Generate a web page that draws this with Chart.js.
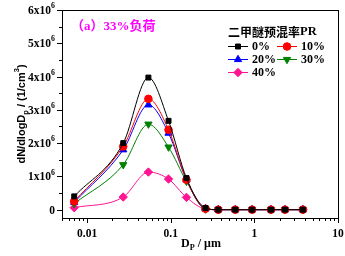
<!DOCTYPE html>
<html>
<head>
<meta charset="utf-8">
<script src="https://cdn.jsdelivr.net/npm/chart.js@4.4.1/dist/chart.umd.min.js"></script>
<style>
  html, body { margin: 0; padding: 0; background: #fff; }
</style>
</head>
<body>
<canvas id="chart" width="345" height="256"></canvas>
<script>
// particle diameter (um)
const sizes = [0.007, 0.027, 0.054, 0.094, 0.154, 0.26, 0.37, 0.59, 0.94, 1.58, 2.32, 3.8];

// dN/dlogDp (1/cm3) for each premix ratio
const pr0  = [0.40e6, 2.00e6, 3.97e6, 2.67e6, 0.95e6, 0.05e6, 0, 0, 0, 0, 0, 0];
const pr10 = [0.25e6, 1.90e6, 3.33e6, 2.40e6, 0.90e6, 0.03e6, 0, 0, 0, 0, 0, 0];
const pr20 = [0.22e6, 1.80e6, 3.15e6, 2.30e6, 0.90e6, 0.03e6, 0, 0, 0, 0, 0, 0];
const pr30 = [0.18e6, 1.35e6, 2.57e6, 1.88e6, 0.85e6, 0.02e6, 0, 0, 0, 0, 0, 0];
const pr40 = [0.06e6, 0.38e6, 1.13e6, 0.92e6, 0.37e6, 0.02e6, 0, 0, 0, 0, 0, 0];

const seriesNames = ['0%', '10%', '20%', '30%', '40%'];
const seriesData = [pr0, pr10, pr20, pr30, pr40];

const xTicks = [0.01, 0.1, 1, 10];
const yTicks = [0, 1e6, 2e6, 3e6, 4e6, 5e6, 6e6];

const colors = ['#000000', '#ff0000', '#0000ff', '#008000', '#ff1493'];
const shapes = ['rect', 'circle', 'triangle', 'triangle', 'rectRot'];
const rotations = [0, 0, 0, 180, 0];
const radii = [3.5, 3.8, 4.2, 4.2, 4.2];

const SERIF = '"Liberation Serif", "Times New Roman", serif';
const SANS = '"Liberation Sans", Arial, sans-serif';

const datasets = seriesData.map((vals, i) => ({
    label: seriesNames[i],
    data: sizes.map((x, j) => ({ x: x, y: vals[j] })),
    borderColor: colors[i],
    backgroundColor: colors[i],
    borderWidth: 1,
    pointStyle: shapes[i],
    pointRotation: rotations[i],
    pointRadius: radii[i],
    pointBorderWidth: 1,
    cubicInterpolationMode: 'monotone',
    order: i
}));

// draw text made of parts with sub/superscripts
function drawRich(ctx, parts, x, y, size, family, align) {
    const small = size * 0.68;
    const widths = parts.map(p => {
        ctx.font = 'bold ' + (p.sub || p.sup ? small : size) + 'px ' + family;
        return ctx.measureText(p.t).width;
    });
    const total = widths.reduce((a, b) => a + b, 0);
    let cx = x;
    if (align === 'center') cx = x - total / 2;
    if (align === 'right') cx = x - total;
    ctx.textAlign = 'left';
    parts.forEach((p, i) => {
        ctx.font = 'bold ' + (p.sub || p.sup ? small : size) + 'px ' + family;
        let dy = 0;
        if (p.sub) dy = size * 0.32;
        if (p.sup) dy = -size * 0.42;
        ctx.fillText(p.t, cx, y + dy);
        cx += widths[i];
    });
}

const decorPlugin = {
    id: 'decor',
    afterDraw(chart) {
        const ctx = chart.ctx;
        const area = chart.chartArea;
        const xs = chart.scales.x;
        const ys = chart.scales.y;
        ctx.save();
        ctx.strokeStyle = '#000';
        ctx.lineWidth = 1;

        // frame
        ctx.strokeRect(area.left + 0.5, area.top + 0.5, area.right - area.left, area.bottom - area.top);

        // x ticks (outside, bottom)
        ctx.beginPath();
        for (let e = -3; e <= 1; e++) {
            for (let m = 1; m <= 9; m++) {
                const v = m * Math.pow(10, e);
                if (v < xs.min || v > xs.max) continue;
                const px = Math.round(xs.getPixelForValue(v)) + 0.5;
                const len = m === 1 ? 5 : 3;
                ctx.moveTo(px, area.bottom);
                ctx.lineTo(px, area.bottom + len);
            }
        }
        // y ticks (outside, left)
        for (let v = 0; v <= 6e6; v += 0.5e6) {
            const py = Math.round(ys.getPixelForValue(v)) + 0.5;
            const len = v % 1e6 === 0 ? 5 : 3;
            ctx.moveTo(area.left, py);
            ctx.lineTo(area.left - len, py);
        }
        ctx.stroke();

        ctx.fillStyle = '#000';
        ctx.textBaseline = 'middle';

        // y tick labels
        ys.ticks.forEach(t => {
            const py = ys.getPixelForValue(t.value) + 1;
            if (t.value === 0) {
                drawRich(ctx, [{ t: '0' }], area.left - 7, py, 11.5, SERIF, 'right');
            } else {
                drawRich(ctx, [{ t: (t.value / 1e6) + 'x10' }, { t: '6', sup: true }], area.left - 7, py, 11.5, SERIF, 'right');
            }
        });

        // y title
        ctx.save();
        ctx.translate(22, (area.top + area.bottom) / 2);
        ctx.rotate(-Math.PI / 2);
        drawRich(ctx, [{ t: 'dN/dlogD' }, { t: 'p', sub: true }, { t: ' / (1/cm' }, { t: '3', sup: true }, { t: ')' }], 0, 0, 11, SANS, 'center');
        ctx.restore();

        // x title
        drawRich(ctx, [{ t: 'D' }, { t: 'P', sub: true }, { t: ' / μm' }], 201, 244, 12, SERIF, 'center');

        // annotation
        ctx.fillStyle = '#ff00ff';
        ctx.font = 'bold 13px ' + SERIF + ', "Noto Sans CJK SC"';
        ctx.textAlign = 'left';
        ctx.fillText('（a）33%负荷', 71, 27);

        // legend
        ctx.fillStyle = '#000';
        ctx.font = 'bold 12px "Noto Sans CJK SC", ' + SERIF;
        ctx.fillText('二甲醚预混率', 228, 32);
        const w = ctx.measureText('二甲醚预混率').width;
        ctx.font = 'bold 12.5px ' + SERIF;
        ctx.fillText('PR', 228 + w, 32);

        const pos = [[228, 46], [277, 46], [228, 59], [277, 59], [228, 72]];
        chart.data.datasets.forEach((ds, i) => {
            const [lx, ly] = pos[i];
            ctx.strokeStyle = ds.borderColor;
            ctx.beginPath();
            ctx.moveTo(lx, ly + 0.5);
            ctx.lineTo(lx + 20, ly + 0.5);
            ctx.stroke();
            ctx.fillStyle = ds.backgroundColor;
            ctx.strokeStyle = ds.borderColor;
            Chart.helpers.drawPoint(ctx, {
                pointStyle: ds.pointStyle,
                rotation: ds.pointRotation,
                radius: ds.pointRadius,
                borderWidth: 1
            }, lx + 10, ly + 0.5);
            ctx.fillStyle = '#000';
            ctx.font = 'bold 12px ' + SERIF;
            ctx.textAlign = 'left';
            ctx.fillText(ds.label, lx + 24, ly + 1);
        });
        ctx.restore();
    }
};

new Chart(document.getElementById('chart'), {
    type: 'line',
    data: { datasets: datasets },
    options: {
        responsive: false,
        animation: false,
        layout: { padding: { top: 10, right: 7, left: 0, bottom: 0 } },
        plugins: {
            legend: { display: false },
            tooltip: { enabled: false }
        },
        scales: {
            x: {
                type: 'logarithmic',
                min: 0.005,
                max: 10,
                afterBuildTicks: scale => { scale.ticks = xTicks.map(v => ({ value: v })); },
                afterFit: scale => {
                    scale.height = 38;
                    scale.paddingLeft = 0;
                    scale.paddingRight = 0;
                },
                grid: { display: false, drawTicks: false },
                border: { display: true, color: '#000', width: 1 },
                ticks: {
                    color: '#000',
                    padding: 9,
                    maxRotation: 0,
                    font: { family: SERIF, size: 11.5, weight: 'bold' },
                    callback: v => String(v)
                }
            },
            y: {
                type: 'linear',
                min: -0.25e6,
                max: 6e6,
                afterBuildTicks: scale => { scale.ticks = yTicks.map(v => ({ value: v })); },
                afterFit: scale => { scale.width = 62; },
                grid: { display: false, drawTicks: false },
                border: { display: true, color: '#000', width: 1 },
                ticks: { display: false }
            }
        }
    },
    plugins: [decorPlugin]
});
</script>
</body>
</html>
